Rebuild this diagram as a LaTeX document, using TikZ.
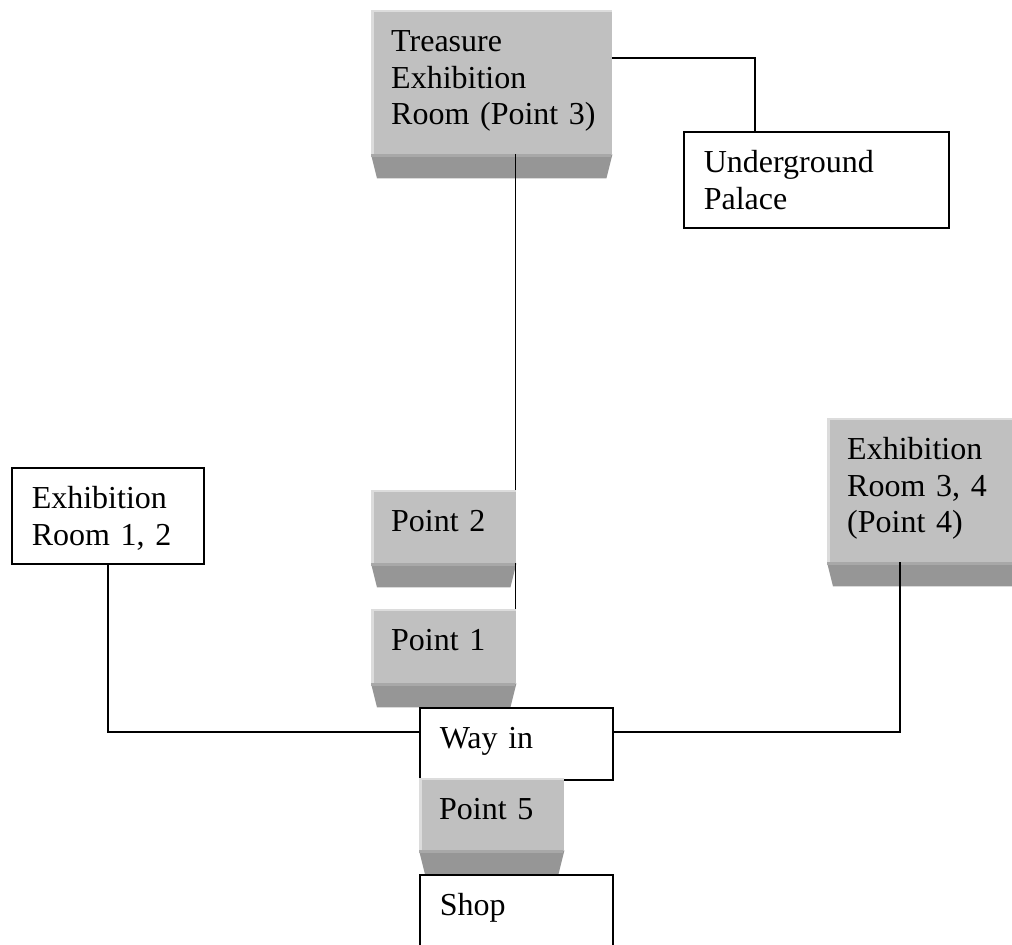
\documentclass[tikz,border=0pt]{standalone}
\usepackage{fontspec}
\setmainfont{Liberation Serif}
\definecolor{facegray}{HTML}{C0C0C0}
\definecolor{edgegray}{HTML}{DCDCDC}
\definecolor{bevelgray}{HTML}{969696}
\definecolor{bevellight}{HTML}{A8A8A8}

\begin{document}
\begin{tikzpicture}[x=1pt,y=-1pt,
  every node/.style={anchor=north west,inner xsep=20pt,inner ysep=20pt,
    text height=21pt,align=left,font=\fontsize{32}{36.8}\selectfont},
  whitebox/.style={draw,line width=1.6pt,fill=white},
  graybox/.style={fill=facegray},
  link/.style={line width=1.6pt}]
\useasboundingbox (0,0) rectangle (1012,945);

% raised grey points
\node[graybox,text width=201pt,text depth=83pt] (treasure) at (371,10) {Treasure\\Exhibition\\\mbox{Room (Point 3)}};
\node[graybox,text width=105pt,text depth=12pt] (point2) at (371,490) {Point 2};
\node[graybox,text width=105pt,text depth=13pt] (point1) at (371,609) {Point 1};
\node[graybox,text width=160pt,text depth=83pt] (exhib34) at (827,418) {Exhibition\\Room 3, 4\\(Point 4)};

\foreach \n in {treasure,point2,point1,exhib34} {
  \fill[bevelgray] (\n.south west) -- (\n.south east) -- ([xshift=-6pt,yshift=-24pt]\n.south east) -- ([xshift=6pt,yshift=-24pt]\n.south west) -- cycle;
  \fill[bevellight] (\n.south west) rectangle ([xshift=-1pt,yshift=-3pt]\n.south east);
  \fill[edgegray] (\n.north west) rectangle ([xshift=3pt]\n.south west);
  \fill[edgegray] (\n.north west) rectangle ([yshift=-2pt]\n.north east);
}

% plain boxes
\node[whitebox,text width=225pt,text depth=35pt] (under) at (683,131) {Underground\\Palace};
\node[whitebox,text width=152pt,text depth=35pt] (exhib12) at (11,467) {Exhibition\\Room 1, 2};
\node[whitebox,text width=153pt,text depth=11pt] (wayin) at (419,707) {Way in};

\node[graybox,text width=105pt,text depth=11pt] (point5) at (419,778) {Point 5};
\fill[bevelgray] (point5.south west) -- (point5.south east) -- ([xshift=-6pt,yshift=-24pt]point5.south east) -- ([xshift=6pt,yshift=-24pt]point5.south west) -- cycle;
\fill[bevellight] (point5.south west) rectangle ([xshift=-1pt,yshift=-3pt]point5.south east);
\fill[edgegray] (point5.north west) rectangle ([xshift=3pt]point5.south west);
\fill[edgegray] (point5.north west) rectangle ([yshift=-2pt]point5.north east);

\node[whitebox,text width=153pt,text depth=25pt] (shop) at (419,874) {Shop};

% connectors
\draw[link] ([yshift=-48pt]treasure.north east) -| ([xshift=72pt]under.north west);
\draw[link] ([xshift=-1pt]point2.north east) -- ([xshift=-1pt]point2.north east |- treasure.south);
\draw[link] ([xshift=-1pt]point2.south east) -- ([xshift=-1pt]point1.north east);
\draw[link] (exhib12.south) |- ([yshift=12pt]wayin.west);
\draw[link] ([xshift=73pt]exhib34.south west) |- ([yshift=12pt]wayin.east);
\end{tikzpicture}
\end{document}
